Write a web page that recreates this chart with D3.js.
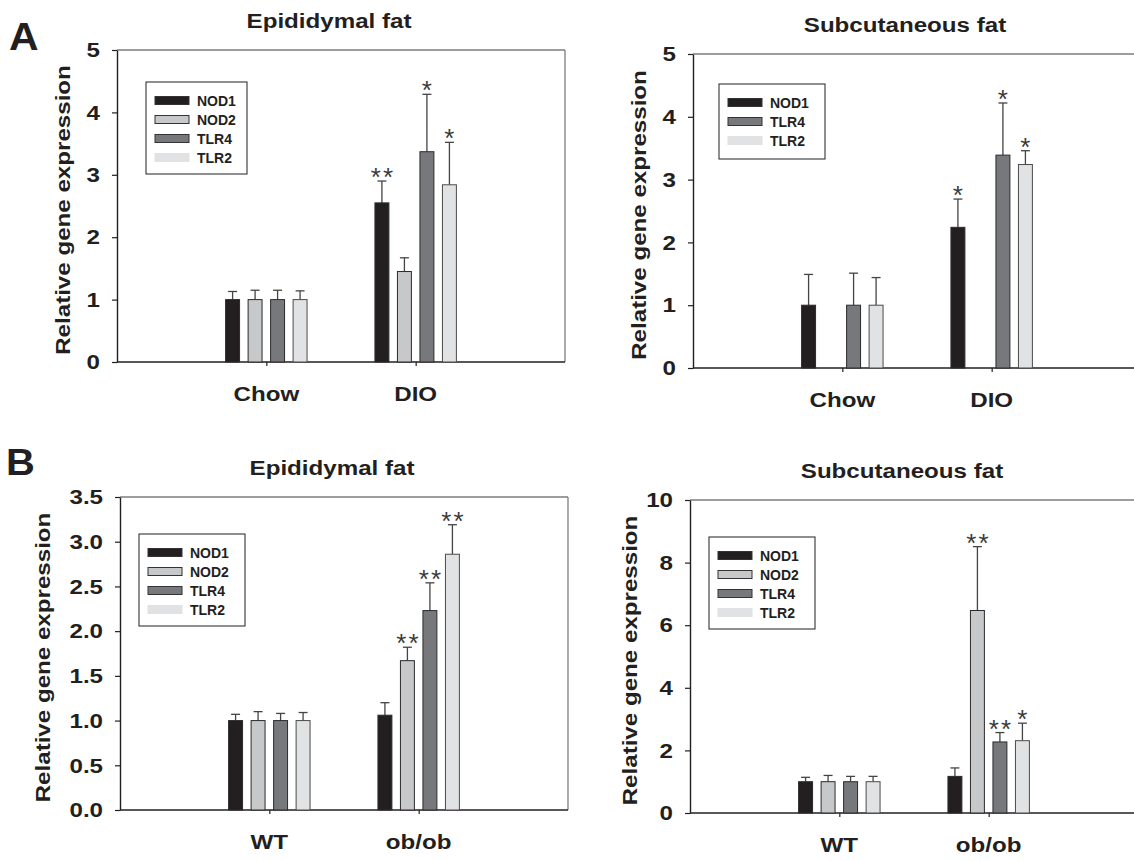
<!DOCTYPE html>
<html>
<head>
<meta charset="utf-8">
<script src="https://cdn.jsdelivr.net/npm/d3@7"></script>
<style>
html, body { margin: 0; padding: 0; background: #fff; overflow: hidden; }
svg { display: block; }
text { font-family: "Liberation Sans", Arial, sans-serif; }
</style>
</head>
<body>
<svg id="fig" width="1134" height="861"></svg>
<script>
// series / groups
var series = ["NOD1", "NOD2", "TLR4", "TLR2"];
var dietGroups = ["Chow", "DIO"];
var geneGroups = ["WT", "ob/ob"];

// A, epididymal fat (rows follow series order)
var aEpiMean = [[1.00, 2.55], [1.00, 1.45], [1.00, 3.37], [1.00, 2.84]];
var aEpiErr = [[0.13, 0.35], [0.15, 0.22], [0.15, 0.92], [0.14, 0.68]];
var aEpiStars = [["", "**"], ["", ""], ["", "*"], ["", "*"]];

// A, subcutaneous fat (no NOD2)
var aSubMean = [[1.00, 2.24], [null, null], [1.00, 3.39], [1.00, 3.24]];
var aSubErr = [[0.49, 0.45], [null, null], [0.51, 0.83], [0.44, 0.22]];
var aSubStars = [["", "*"], ["", ""], ["", "*"], ["", "*"]];

// B, epididymal fat
var bEpiMean = [[1.00, 1.06], [1.00, 1.67], [1.00, 2.23], [1.00, 2.86]];
var bEpiErr = [[0.07, 0.14], [0.10, 0.15], [0.08, 0.31], [0.09, 0.33]];
var bEpiStars = [["", ""], ["", "**"], ["", "**"], ["", "**"]];

// B, subcutaneous fat
var bSubMean = [[1.00, 1.17], [1.00, 6.47], [1.00, 2.27], [1.00, 2.31]];
var bSubErr = [[0.14, 0.27], [0.20, 2.04], [0.17, 0.30], [0.17, 0.56]];
var bSubStars = [["", ""], ["", "**"], ["", "**"], ["", "*"]];

// y ticks
var ticksFive = [0, 1, 2, 3, 4, 5];
var ticksB1 = [0, 0.5, 1, 1.5, 2, 2.5, 3, 3.5];
var ticksB2 = [0, 2, 4, 6, 8, 10];

var colors = ["#231f20", "#c7c8ca", "#77787b", "#e1e2e3"];
var SX = 1.15; // the figure's type runs a little wide

var svg = d3.select("#fig");

function txt(g, x, y, str, size, anchor, sx) {
    return g.append("text")
        .attr("transform", "translate(" + x + "," + y + ") scale(" + sx + ",1)")
        .attr("text-anchor", anchor)
        .style("font-size", size + "px")
        .style("font-weight", "bold")
        .attr("fill", "#231f20")
        .text(str);
}

function drawPanel(p) {
    var g = svg.append("g");
    var left = p.left, top = p.top, bottom = p.bottom, right = p.left + 448;

    var x = d3.scalePoint().domain(p.groups).range([left, right]).padding(1);
    var xs = d3.scaleBand().domain(series).range([-45, 45])
        .paddingInner(0.38).paddingOuter(0.19);
    var y = d3.scaleLinear().domain([0, p.ymax]).range([bottom, top]);

    // frame (top + right, grey); right side runs off the page for the right panels
    g.append("line").attr("x1", left).attr("x2", Math.min(right, 1134))
        .attr("y1", top).attr("y2", top)
        .attr("stroke", "#7d7d7d").attr("stroke-width", 1.3);
    if (right < 1134) {
        g.append("line").attr("x1", right).attr("x2", right)
            .attr("y1", top).attr("y2", bottom)
            .attr("stroke", "#7d7d7d").attr("stroke-width", 1.3);
    }

    // y axis
    var ya = g.append("g").attr("transform", "translate(" + left + ",0)")
        .call(d3.axisLeft(y).tickValues(p.ticks).tickSize(5).tickSizeOuter(0)
            .tickFormat(d3.format(p.fmt)));
    ya.select(".domain").attr("stroke", "#231f20").attr("stroke-width", 1.4);
    ya.selectAll(".tick line").attr("stroke", "#231f20").attr("stroke-width", 1.2);
    ya.selectAll(".tick text")
        .attr("x", -17 / SX)
        .attr("transform", "scale(" + SX + ",1)")
        .attr("fill", "#231f20")
        .style("font-family", "'Liberation Sans', Arial, sans-serif")
        .style("font-size", "21px").style("font-weight", "bold");

    // x axis
    var xa = g.append("g").attr("transform", "translate(0," + bottom + ")")
        .call(d3.axisBottom(x).tickSize(4).tickSizeOuter(0).tickFormat(""));
    xa.select(".domain").attr("d", "M" + left + ",0H" + Math.min(right, 1134))
        .attr("stroke", "#231f20").attr("stroke-width", 1.4);
    xa.selectAll(".tick line").attr("stroke", "#231f20").attr("stroke-width", 1.2);

    p.groups.forEach(function(gr) {
        txt(g, x(gr), bottom + 39, gr, 21, "middle", SX);
    });

    // bars, error bars, stars
    series.forEach(function(s, si) {
        p.groups.forEach(function(gr, gi) {
            var v = p.mean[si][gi];
            if (v == null) return;
            var e = p.err[si][gi];
            var bx = x(gr) + xs(s);
            var cx = bx + xs.bandwidth() / 2;
            g.append("line")
                .attr("x1", cx).attr("x2", cx)
                .attr("y1", y(v)).attr("y2", y(v + e))
                .attr("stroke", "#444").attr("stroke-width", 1.3);
            g.append("line")
                .attr("x1", cx - 4.5).attr("x2", cx + 4.5)
                .attr("y1", y(v + e)).attr("y2", y(v + e))
                .attr("stroke", "#444").attr("stroke-width", 1.3);
            g.append("rect")
                .attr("x", bx).attr("width", xs.bandwidth())
                .attr("y", y(v)).attr("height", y(0) - y(v))
                .attr("fill", colors[si])
                .attr("stroke", si == 3 ? "#4a4a4a" : "#2b2b2b")
                .attr("stroke-width", 1);
            var st = p.stars[si][gi];
            if (st) {
                g.append("text")
                    .attr("x", cx + 1).attr("y", y(v + e) + 5)
                    .attr("text-anchor", "middle")
                    .style("font-size", "26px")
                    .style("letter-spacing", "2px")
                    .attr("fill", "#3a3a3a")
                    .text(st);
            }
        });
    });

    // legend
    var shown = series.filter(function(s, si) { return p.mean[si][0] != null; });
    var lx = left + p.legX, ly = top + p.legY;
    var lh = 18 + shown.length * 19 + (shown.length == 4 ? -2 : 0);
    g.append("rect").attr("x", lx).attr("y", ly)
        .attr("width", p.legW).attr("height", lh)
        .attr("fill", "#fff").attr("stroke", "#333").attr("stroke-width", 1.1);
    shown.forEach(function(s, k) {
        var si = series.indexOf(s);
        var cy = ly + 18.5 + k * 19;
        g.append("rect").attr("x", lx + 9).attr("y", cy - 4)
            .attr("width", 34).attr("height", 8)
            .attr("fill", colors[si])
            .attr("stroke", si == 3 ? colors[si] : "#333").attr("stroke-width", 1);
        g.append("text").attr("x", lx + 51).attr("y", cy + 5)
            .style("font-size", "14px").style("font-weight", "bold")
            .attr("fill", "#231f20").text(s);
    });

    // title and y label
    txt(g, left + 212, top - 22, p.title, 21, "middle", SX);
    g.append("text")
        .attr("transform", "translate(" + (left - p.ylabOff) + "," + ((top + bottom) / 2 + 4) + ") rotate(-90) scale(" + SX + ",1)")
        .attr("text-anchor", "middle")
        .style("font-size", "21px").style("font-weight", "bold")
        .attr("fill", "#231f20")
        .text("Relative gene expression");
}

drawPanel({ left: 117, top: 50, bottom: 362, groups: dietGroups, ymax: 5, ticks: ticksFive, fmt: "d",
    mean: aEpiMean, err: aEpiErr, stars: aEpiStars, title: "Epididymal fat",
    legX: 29, legY: 32, legW: 101, ylabOff: 47 });
drawPanel({ left: 693, top: 54, bottom: 368, groups: dietGroups, ymax: 5, ticks: ticksFive, fmt: "d",
    mean: aSubMean, err: aSubErr, stars: aSubStars, title: "Subcutaneous fat",
    legX: 26, legY: 30, legW: 106, ylabOff: 47 });
drawPanel({ left: 120, top: 497, bottom: 810, groups: geneGroups, ymax: 3.5, ticks: ticksB1, fmt: ".1f",
    mean: bEpiMean, err: bEpiErr, stars: bEpiStars, title: "Epididymal fat",
    legX: 19, legY: 37, legW: 106, ylabOff: 70 });
drawPanel({ left: 690, top: 500, bottom: 813, groups: geneGroups, ymax: 10, ticks: ticksB2, fmt: "d",
    mean: bSubMean, err: bSubErr, stars: bSubStars, title: "Subcutaneous fat",
    legX: 19, legY: 37, legW: 106, ylabOff: 53 });

// panel letters
txt(svg, 9, 50, "A", 39, "start", 1.05);
txt(svg, 6, 475, "B", 37, "start", 1.08);
</script>
</body>
</html>
